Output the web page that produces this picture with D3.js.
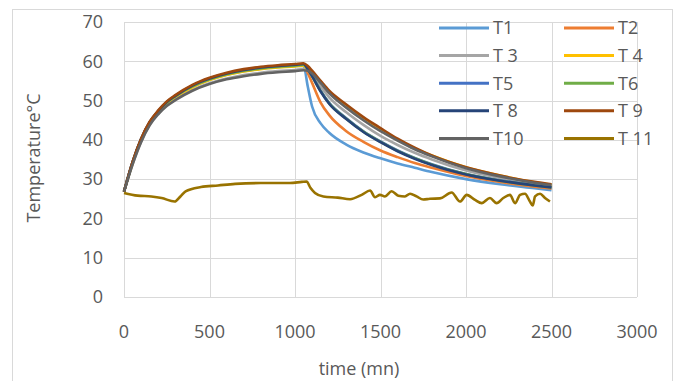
<!DOCTYPE html>
<html>
<head>
<meta charset="utf-8">
<script src="https://cdn.jsdelivr.net/npm/d3@7"></script>
<style>
  body { margin: 0; background: #fff; }
  text { font-family: "Open Sans", "Liberation Sans", sans-serif; fill: #595959; }
</style>
</head>
<body>
<div class="chart"></div>
<script>
// time (mn) shared by T1..T10
var times = [0,50,100,150,200,250,300,400,500,600,700,800,900,1000,1050,1075,1100,1150,1200,1300,1400,1500,1600,1700,1800,2000,2200,2400,2500];

var T1  = [26.8,34.2,40.1,44.3,47.1,49.4,51.0,53.5,55.3,56.6,57.5,58.1,58.5,58.8,58.9,53.5,48.5,44.2,41.8,38.8,36.8,35.3,34.0,32.9,31.8,30.0,28.7,27.7,27.2];
var T2  = [26.8,34.2,40.1,44.4,47.2,49.5,51.1,53.6,55.4,56.7,57.6,58.2,58.6,58.9,59.1,57.0,54.5,49.5,46.3,42.2,39.5,37.3,35.6,34.1,32.9,30.8,29.3,28.1,27.6];
var T3  = [26.8,33.8,39.6,43.9,46.7,48.8,50.3,52.7,54.4,55.6,56.5,57.1,57.5,57.8,58.0,57.6,56.6,53.6,50.8,47.0,43.8,41.0,38.7,36.7,35.0,32.2,30.3,28.8,28.3];
var T4  = [26.8,34.1,40.0,44.3,47.1,49.3,50.9,53.4,55.2,56.5,57.4,58.0,58.4,58.7,58.9,57.8,57.1,54.7,52.1,48.4,45.2,42.4,40.0,37.8,36.0,33.0,30.9,29.2,28.6];
var T5  = [26.8,34.3,40.2,44.5,47.3,49.6,51.2,53.8,55.6,56.9,57.8,58.4,58.8,59.1,59.3,58.0,56.3,52.5,49.4,45.5,42.2,39.6,37.3,35.4,33.8,31.3,29.7,28.5,28.0];
var T6  = [26.8,34.2,40.1,44.4,47.2,49.5,51.1,53.6,55.4,56.7,57.6,58.2,58.6,58.9,59.1,58.0,56.2,52.4,49.3,45.4,42.1,39.5,37.2,35.3,33.7,31.3,29.6,28.4,27.9];
var T8  = [26.8,34.3,40.2,44.5,47.3,49.6,51.2,53.8,55.6,56.9,57.8,58.4,58.8,59.1,59.3,58.0,56.2,52.3,49.2,45.3,42.0,39.4,37.1,35.2,33.6,31.2,29.6,28.4,27.9];
var T9  = [26.8,34.4,40.3,44.6,47.5,49.8,51.4,54.0,55.8,57.1,58.0,58.6,59.0,59.3,59.5,58.8,57.6,55.0,52.5,49.0,45.8,43.0,40.3,38.0,36.0,33.0,30.9,29.3,28.7];
var T10 = [26.8,33.7,39.4,43.7,46.5,48.6,50.1,52.5,54.2,55.4,56.2,56.8,57.2,57.5,57.7,57.6,56.9,54.5,51.9,48.2,45.0,42.2,39.8,37.6,35.8,32.8,30.7,29.1,28.5];

var times11 = [0,80,160,220,296,330,360,450,550,650,800,970,1040,1068,1090,1117,1166,1250,1322,1390,1439,1468,1497,1526,1565,1604,1643,1673,1711,1750,1789,1848,1916,1965,2004,2053,2092,2140,2179,2218,2257,2287,2316,2345,2374,2390,2404,2433,2462,2491];
var T11 = [26.5,25.8,25.6,25.2,24.3,25.6,26.9,28.0,28.4,28.8,29.0,29.0,29.3,29.4,27.8,26.5,25.6,25.3,24.9,26.0,27.1,25.4,26.0,25.6,26.9,25.8,25.6,26.3,25.6,24.8,25.0,25.1,26.6,24.3,26.0,24.7,23.9,25.2,23.9,25.2,26.0,23.9,26.0,26.3,24.3,23.3,25.6,26.3,25.2,24.3];

var names  = ["T1", "T2", "T 3", "T 4", "T5", "T6", "T 8", "T 9", "T10", "T 11"];
var colors = ["#5b9bd5", "#ed7d31", "#a5a5a5", "#ffc000", "#4472c4", "#70ad47", "#264478", "#9e480e", "#636363", "#997300"];
var xTicks = [0, 500, 1000, 1500, 2000, 2500, 3000];
var yTicks = [0, 10, 20, 30, 40, 50, 60, 70];

var width = 680, height = 381;

var svg = d3.select(".chart").append("svg")
  .attr("width", width)
  .attr("height", height);

// chart frame
svg.append("rect")
  .attr("x", 12.5).attr("y", 9.5)
  .attr("width", 660).attr("height", 380)
  .attr("fill", "none")
  .attr("stroke", "#d9d9d9");

var x = d3.scaleLinear().domain([0, 3000]).range([124, 637]);
var y = d3.scaleLinear().domain([0, 70]).range([297, 22]);

// grid
svg.selectAll(".hgrid").data(yTicks).enter().append("line")
  .attr("x1", x(0)).attr("x2", x(3000))
  .attr("y1", function(d) { return Math.round(y(d)) + 0.5; })
  .attr("y2", function(d) { return Math.round(y(d)) + 0.5; })
  .attr("stroke", "#d9d9d9").attr("stroke-width", 1);

svg.selectAll(".vgrid").data(xTicks).enter().append("line")
  .attr("y1", y(70)).attr("y2", y(0))
  .attr("x1", function(d) { return Math.round(x(d)) + 0.5; })
  .attr("x2", function(d) { return Math.round(x(d)) + 0.5; })
  .attr("stroke", "#d9d9d9").attr("stroke-width", 1);

// tick labels
svg.selectAll(".ylab").data(yTicks).enter().append("text")
  .attr("x", 103)
  .attr("y", function(d) { return y(d); })
  .attr("dy", "0.35em")
  .attr("text-anchor", "end")
  .attr("font-size", 18)
  .text(function(d) { return d; });

svg.selectAll(".xlab").data(xTicks).enter().append("text")
  .attr("x", function(d) { return x(d); })
  .attr("y", 332)
  .attr("dy", "0.35em")
  .attr("text-anchor", "middle")
  .attr("font-size", 18)
  .text(function(d) { return d; });

// axis titles
svg.append("text")
  .attr("x", 359).attr("y", 369)
  .attr("dy", "0.35em")
  .attr("text-anchor", "middle")
  .attr("font-size", 18)
  .text("time (mn)");

svg.append("text")
  .attr("transform", "translate(34,158) rotate(-90)")
  .attr("dy", "0.35em")
  .attr("text-anchor", "middle")
  .attr("font-size", 18)
  .text("Temperature°C");

// series
var series = [T1, T2, T3, T4, T5, T6, T8, T9, T10].map(function(vals, i) {
  return { name: names[i], color: colors[i], pts: times.map(function(t, j) { return [t, vals[j]]; }) };
});
series.push({ name: names[9], color: colors[9], pts: times11.map(function(t, j) { return [t, T11[j]]; }) });

var line = d3.line()
  .x(function(d) { return x(d[0]); })
  .y(function(d) { return y(d[1]); })
  .curve(d3.curveMonotoneX);

svg.selectAll(".series").data(series).enter().append("path")
  .attr("d", function(s) { return line(s.pts); })
  .attr("fill", "none")
  .attr("stroke", function(s) { return s.color; })
  .attr("stroke-width", 2.6)
  .attr("stroke-linejoin", "round");

// legend, two columns
var legend = svg.selectAll(".leg").data(series).enter().append("g")
  .attr("transform", function(s, i) {
    var col = i % 2, row = Math.floor(i / 2);
    return "translate(" + (439 + col * 125) + "," + (28 + row * 27.6) + ")";
  });

legend.append("line")
  .attr("x1", 0).attr("x2", 50)
  .attr("stroke", function(s) { return s.color; })
  .attr("stroke-width", 3);

legend.append("text")
  .attr("x", 54)
  .attr("dy", "0.35em")
  .attr("font-size", 18)
  .text(function(s) { return s.name; });
</script>
</body>
</html>
